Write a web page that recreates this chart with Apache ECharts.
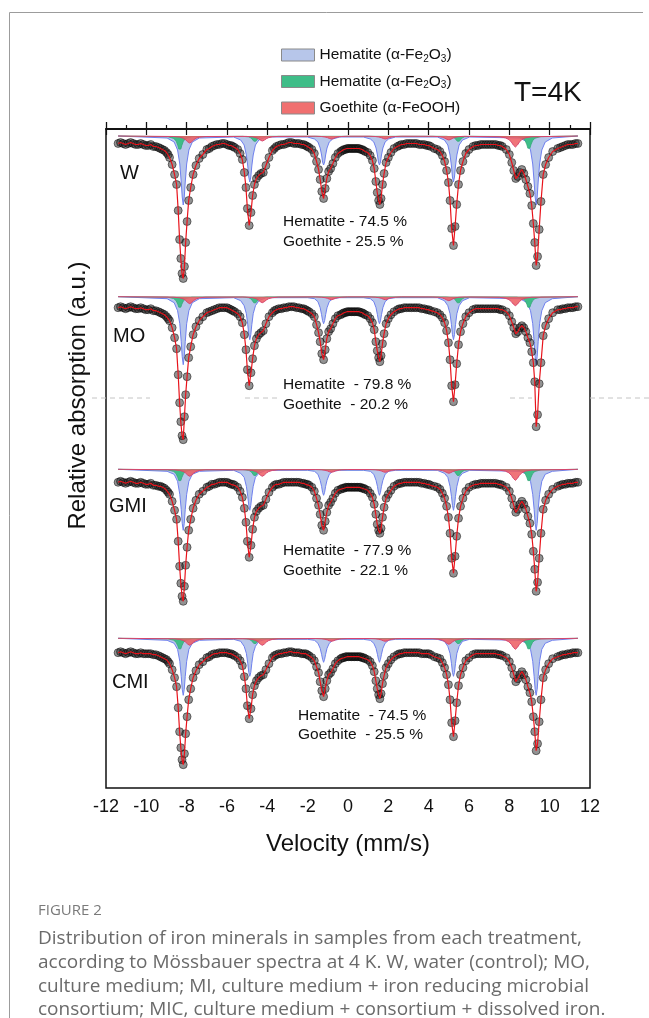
<!DOCTYPE html>
<html><head><meta charset="utf-8">
<script src="https://cdn.jsdelivr.net/npm/echarts@6/dist/echarts.min.js"></script>
<style>html,body{margin:0;padding:0;background:#fff;}#chart{width:649px;height:1018px;}</style>
</head><body><div id="chart"></div>
<script>
// ---------------- DATA ----------------
const samples = ['W', 'MO', 'GMI', 'CMI'];
const hematiteText = ['Hematite - 74.5 %', 'Hematite  - 79.8 %', 'Hematite  - 77.9 %', 'Hematite  - 74.5 %'];
const goethiteText = ['Goethite - 25.5 %', 'Goethite  - 20.2 %', 'Goethite  - 22.1 %', 'Goethite  - 25.5 %'];
const xTickValues = [-12, -10, -8, -6, -4, -2, 0, 2, 4, 6, 8, 10, 12];

// measured velocities (mm/s)
const velocity = [
-11.4,-11.28,-11.15,-11.03,-10.9,-10.78,-10.65,-10.53,-10.4,-10.28,-10.15,-10.03,-9.9,-9.78,-9.65,-9.53,-9.4,-9.3,-9.2,-9.1,-9.0,-8.92,-8.85,
-8.72,-8.6,-8.5,-8.42,-8.35,-8.29,-8.23,-8.17,-8.11,-8.05,-7.98,-7.9,-7.8,-7.68,-7.54,-7.38,-7.2,
-7.0,-6.88,-6.75,-6.63,-6.5,-6.38,-6.25,-6.13,-6.0,-5.9,-5.8,-5.71,-5.62,
-5.47,-5.35,-5.24,-5.14,-5.06,-4.99,-4.9,-4.81,-4.73,-4.64,-4.54,-4.43,-4.32,-4.2,-4.07,-3.92,
-3.75,-3.65,-3.55,-3.43,-3.3,-3.18,-3.05,-2.93,-2.8,-2.68,-2.55,-2.43,-2.3,-2.2,-2.1,-2.02,-1.93,
-1.79,-1.67,-1.56,-1.46,-1.38,-1.3,-1.21,-1.13,-1.05,-0.96,-0.86,-0.75,-0.63,-0.5,
-0.36,-0.28,-0.2,-0.12,-0.05,0.03,0.1,0.18,0.25,0.33,0.4,0.48,0.55,0.63,0.7,0.78,0.85,
0.98,1.1,1.21,1.3,1.38,1.45,1.52,1.58,1.64,1.71,1.79,1.89,2.0,2.13,2.28,
2.45,2.55,2.65,2.78,2.9,3.03,3.15,3.28,3.4,3.53,3.65,3.78,3.9,4.0,4.1,
4.28,4.43,4.56,4.68,4.79,4.89,4.98,5.06,5.14,5.23,5.31,5.39,5.48,5.58,5.7,5.84,6.0,
6.2,6.33,6.45,6.58,6.7,6.83,6.95,7.08,7.2,7.33,7.45,7.55,7.65,
7.85,8.0,8.12,8.22,8.32,8.42,8.52,8.62,8.72,8.82,8.92,9.02,9.11,9.19,9.26,9.33,9.4,9.48,9.57,9.68,9.8,9.95,10.15,
10.4,10.53,10.65,10.78,10.9,11.03,11.15,11.28,11.4
];
// relative absorption of the measured points (a.u.)
const absW = [
1,0,1,2,1,0,1,2,2,1,2,3,3,2,4,4,5,6,7,8,10,12,15,
22,32,42,68,97,116,131,136,124,100,79,58,45,32,23,16,12,
7,6,4,3,2,2,1,1,2,3,3,4,5,
7,11,17,30,45,66,83,70,53,42,36,33,31,30,23,15,
8,6,4,3,2,2,1,0,0,1,1,1,2,2,3,4,5,
7,11,19,27,37,49,56,46,36,29,26,21,15,11,
9,8,7,7,6,6,6,6,6,6,6,6,6,7,7,8,9,
10,13,18,26,39,50,58,62,56,42,31,20,15,10,6,
4,3,2,2,1,1,1,1,1,2,2,2,3,3,4,
6,7,9,13,19,28,40,58,86,103,84,62,42,28,19,11,7,
4,3,3,2,2,2,2,2,2,2,3,3,4,
7,12,20,28,36,34,30,27,31,37,44,51,63,81,100,123,114,87,59,32,22,15,9,
6,5,4,3,2,2,2,1,1
];
const absMO = [
1,0,1,2,1,0,1,2,2,1,2,3,3,2,4,4,5,6,7,8,10,12,14,
21,31,42,68,96,115,129,133,110,88,70,51,40,28,20,14,10,
6,5,4,3,2,1,1,1,1,2,3,4,5,
7,10,16,28,43,63,79,66,52,39,32,28,26,24,17,10,
6,4,3,2,2,1,1,0,0,0,1,1,2,2,3,4,5,
7,10,18,26,35,47,53,43,32,25,22,17,12,9,
8,7,6,6,5,5,5,5,5,5,5,5,5,6,6,7,8,
9,12,16,23,35,44,51,55,49,37,27,17,12,8,5,
3,2,2,1,1,1,1,1,1,1,2,2,3,3,4,
5,6,8,11,16,24,36,53,79,95,78,57,38,25,17,10,6,
3,2,2,2,2,2,2,2,2,2,2,3,3,
5,9,15,21,27,25,21,19,21,25,31,36,45,56,75,120,108,77,56,29,19,12,6,
3,3,2,2,1,1,1,0,0
];
const absGMI = [
1,0,1,2,1,0,1,2,2,1,2,3,3,2,4,4,5,5,6,7,9,11,13,
20,29,38,60,85,102,115,120,105,84,66,49,38,27,19,13,10,
6,5,3,3,2,1,1,1,1,2,3,3,4,
6,10,16,27,41,60,76,64,48,36,30,27,25,24,18,11,
6,4,3,3,2,1,1,1,1,1,1,1,2,2,3,3,4,
6,10,17,24,33,44,49,40,31,24,21,17,12,9,
8,7,7,6,6,6,6,6,6,6,6,6,6,6,7,7,8,
9,12,16,23,33,43,49,52,47,36,26,17,13,9,5,
3,2,2,1,1,1,1,1,1,1,2,2,3,3,4,
5,6,8,12,17,25,36,52,77,92,75,55,37,25,17,10,6,
4,3,3,2,2,2,2,2,2,2,3,3,4,
6,10,17,24,31,28,23,20,23,28,35,42,53,70,88,110,101,77,52,28,19,13,8,
5,4,3,3,2,2,2,1,1
];
const absCMI = [
1,0,1,2,1,0,1,2,2,1,2,2,2,2,3,3,4,5,6,7,8,10,12,
18,26,35,56,80,96,108,113,102,82,65,48,37,26,19,13,10,
6,5,3,2,2,1,1,1,1,2,2,3,4,
6,9,14,25,37,54,67,57,43,34,29,26,24,23,18,12,
6,4,3,2,2,1,1,0,0,1,1,1,2,2,2,3,4,
6,9,15,21,30,39,45,37,29,23,21,17,12,9,
7,6,6,5,5,5,5,5,5,5,5,5,5,5,6,6,7,
8,10,14,20,29,37,43,47,42,32,24,16,12,8,5,
3,2,2,1,1,1,1,1,1,1,2,2,2,2,3,
5,6,7,11,16,23,33,48,71,85,69,51,34,23,16,9,6,
3,2,2,2,2,2,2,2,2,2,3,3,4,
6,10,16,23,30,27,23,20,23,28,35,41,50,65,80,99,92,70,48,26,18,12,7,
5,4,3,3,2,2,1,1,1
];

// fitted sub-spectrum: Hematite (blue)
const blueVelocity = [-11.4,
-8.97,-8.62,-8.45,-8.34,-8.27,-8.22,-8.17,-8.12,-8.07,-8.0,-7.89,-7.72,-7.37,
-5.67,-5.32,-5.15,-5.04,-4.97,-4.92,-4.87,-4.82,-4.77,-4.7,-4.59,-4.42,-4.07,
-2.01,-1.66,-1.49,-1.38,-1.31,-1.26,-1.21,-1.16,-1.11,-1.04,-0.93,-0.76,-0.41,
0.76,1.11,1.28,1.39,1.46,1.51,1.56,1.61,1.66,1.73,1.84,2.01,2.36,
4.43,4.78,4.95,5.06,5.13,5.18,5.23,5.28,5.33,5.4,5.51,5.68,6.03,
8.53,8.88,9.05,9.16,9.23,9.28,9.33,9.38,9.43,9.5,9.61,9.78,10.13,
11.4];
const blueW = [0,
2,6,14,28,46,61,69,61,46,28,14,6,2,
1,4,9,19,30,41,46,41,30,19,9,4,1,
1,3,6,12,19,26,29,26,19,12,6,3,1,
1,3,6,12,19,26,29,26,19,12,6,3,1,
1,4,9,19,30,41,46,41,30,19,9,4,1,
2,6,14,28,46,61,69,61,46,28,14,6,2,
0];
const blueMO = [0,
2,6,14,27,45,60,68,60,45,27,14,6,2,
1,4,9,17,28,38,43,38,28,17,9,4,1,
1,2,5,11,18,24,27,24,18,11,5,2,1,
1,2,5,11,18,24,27,24,18,11,5,2,1,
1,4,9,17,28,38,43,38,28,17,9,4,1,
2,6,14,27,45,60,68,60,45,27,14,6,2,
0];
const blueGMI = [0,
2,5,12,25,40,54,61,54,40,25,12,5,2,
1,4,8,17,27,36,41,36,27,17,8,4,1,
1,2,5,11,17,23,26,23,17,11,5,2,1,
1,2,5,11,17,23,26,23,17,11,5,2,1,
1,4,8,17,27,36,41,36,27,17,8,4,1,
2,5,12,25,40,54,61,54,40,25,12,5,2,
0];
const blueCMI = [0,
2,5,11,23,38,51,57,51,38,23,11,5,2,
1,3,8,15,25,34,38,34,25,15,8,3,1,
1,2,5,10,16,21,24,21,16,10,5,2,1,
1,2,5,10,16,21,24,21,16,10,5,2,1,
1,3,8,15,25,34,38,34,25,15,8,3,1,
2,5,11,23,38,51,57,51,38,23,11,5,2,
0];

// fitted sub-spectrum: Hematite (green)
const greenVelocity = [-11.4,
-8.94,-8.64,-8.52,-8.44,-8.39,-8.34,-8.29,-8.24,-8.16,-8.04,-7.74,
-5.22,-4.92,-4.8,-4.72,-4.67,-4.62,-4.57,-4.52,-4.44,-4.32,-4.02,
4.87,5.17,5.29,5.37,5.42,5.47,5.52,5.57,5.65,5.77,6.07,
8.37,8.67,8.79,8.87,8.92,8.97,9.02,9.07,9.15,9.27,9.57,
11.4];
const greenW = [0,
0.7,2.4,5.1,9.4,13.1,15,13.1,9.4,5.1,2.4,0.7,
0.3,0.9,2.1,3.8,5.2,6,5.2,3.8,2.1,0.9,0.3,
0.3,0.9,2.1,3.8,5.2,6,5.2,3.8,2.1,0.9,0.3,
0.6,2.2,4.8,8.8,12.2,14,12.2,8.8,4.8,2.2,0.6,
0];
const greenMO = [0,
0.5,1.9,4.1,7.5,10.5,12,10.5,7.5,4.1,1.9,0.5,
0.3,1.1,2.4,4.4,6.1,7,6.1,4.4,2.4,1.1,0.3,
0.3,1.1,2.4,4.4,6.1,7,6.1,4.4,2.4,1.1,0.3,
0.5,1.9,4.1,7.5,10.5,12,10.5,7.5,4.1,1.9,0.5,
0];
const greenGMI = [0,
0.6,2.1,4.5,8.2,11.3,13,11.3,8.2,4.5,2.1,0.6,
0.3,1.1,2.4,4.4,6.1,7,6.1,4.4,2.4,1.1,0.3,
0.3,1.1,2.4,4.4,6.1,7,6.1,4.4,2.4,1.1,0.3,
0.6,2.1,4.5,8.2,11.3,13,11.3,8.2,4.5,2.1,0.6,
0];
const greenCMI = [0,
0.5,1.9,4.1,7.5,10.5,12,10.5,7.5,4.1,1.9,0.5,
0.3,0.9,2.1,3.8,5.2,6,5.2,3.8,2.1,0.9,0.3,
0.3,0.9,2.1,3.8,5.2,6,5.2,3.8,2.1,0.9,0.3,
0.5,1.9,4.1,7.5,10.5,12,10.5,7.5,4.1,1.9,0.5,
0];

// fitted sub-spectrum: Goethite (red)
const redVelocity = [-11.4,
-8.65,-8.35,-8.17,-8.05,-7.95,-7.85,-7.75,-7.65,-7.53,-7.35,-7.05,
-5.05,-4.75,-4.57,-4.45,-4.35,-4.25,-4.15,-4.05,-3.93,-3.75,-3.45,
-1.62,-1.32,-1.14,-1.02,-0.92,-0.82,-0.72,-0.62,-0.5,-0.32,-0.02,
1.05,1.35,1.53,1.65,1.75,1.85,1.95,2.05,2.17,2.35,2.65,
4.2,4.5,4.68,4.8,4.9,5.0,5.1,5.2,5.32,5.5,5.8,
7.5,7.8,7.98,8.1,8.2,8.3,8.4,8.5,8.62,8.8,9.1,
11.4];
const redW = [0,
0.5,1.1,2.2,3.8,5.8,7,5.8,3.8,2.2,1.1,0.5,
0.4,0.8,1.6,2.7,4.1,5,4.1,2.7,1.6,0.8,0.4,
0.2,0.5,1,1.6,2.5,3,2.5,1.6,1,0.5,0.2,
0.2,0.5,1,1.6,2.5,3,2.5,1.6,1,0.5,0.2,
0.3,0.6,1.3,2.2,3.3,4,3.3,2.2,1.3,0.6,0.3,
0.8,1.8,3.5,6,9.1,11,9.1,6,3.5,1.8,0.8,
0];
const redMO = [0,
0.5,1.1,2.2,3.8,5.8,7,5.8,3.8,2.2,1.1,0.5,
0.4,1,1.9,3.3,5,6,5,3.3,1.9,1,0.4,
0.2,0.5,1,1.6,2.5,3,2.5,1.6,1,0.5,0.2,
0.2,0.5,1,1.6,2.5,3,2.5,1.6,1,0.5,0.2,
0.3,0.6,1.3,2.2,3.3,4,3.3,2.2,1.3,0.6,0.3,
0.6,1.5,2.9,4.9,7.5,9,7.5,4.9,2.9,1.5,0.6,
0];
const redGMI = [0,
0.5,1.1,2.2,3.8,5.8,7,5.8,3.8,2.2,1.1,0.5,
0.5,1.1,2.2,3.8,5.8,7,5.8,3.8,2.2,1.1,0.5,
0.2,0.5,1,1.6,2.5,3,2.5,1.6,1,0.5,0.2,
0.2,0.5,1,1.6,2.5,3,2.5,1.6,1,0.5,0.2,
0.3,0.6,1.3,2.2,3.3,4,3.3,2.2,1.3,0.6,0.3,
0.8,1.8,3.5,6,9.1,11,9.1,6,3.5,1.8,0.8,
0];
const redCMI = [0,
0.5,1.1,2.2,3.8,5.8,7,5.8,3.8,2.2,1.1,0.5,
0.5,1.1,2.2,3.8,5.8,7,5.8,3.8,2.2,1.1,0.5,
0.2,0.5,1,1.6,2.5,3,2.5,1.6,1,0.5,0.2,
0.2,0.5,1,1.6,2.5,3,2.5,1.6,1,0.5,0.2,
0.4,1,1.9,3.3,5,6,5,3.3,1.9,1,0.4,
0.8,1.8,3.5,6,9.1,11,9.1,6,3.5,1.8,0.8,
0];

// ---------------- LAYOUT / STYLE ----------------
const FONT = '"Liberation Sans", Arial, Helvetica, sans-serif';
const CAP_FONT = '"Open Sans", "Noto Sans", sans-serif';
const GRID = { left: 106, top: 129, width: 484, height: 659 };
const dataBase = [13.5, 177.7, 352.3, 522.7];   // vertical stacking offsets (layout)
const compBase = [7, 167.7, 340.3, 509.3];
const absorb = [absW, absMO, absGMI, absCMI];
const blue = [blueW, blueMO, blueGMI, blueCMI];
const green = [greenW, greenMO, greenGMI, greenCMI];
const red = [redW, redMO, redGMI, redCMI];
const labelPos = [[120, 173], [113, 336], [109, 506], [112, 682]];
const notePos = [[283, 222, 242], [283, 385, 405], [283, 551, 571], [298, 716, 735]];

const C_BLUE = '#b7c6ea', C_BLUE_LINE = '#6f80ee';
const C_GREEN = '#3fbd88', C_GREEN_LINE = '#34a877';
const C_RED = 'rgba(236,92,98,0.85)', C_RED_LINE = '#d8456e';

const series = [];
samples.forEach((s, i) => {
  series.push({
    name: 'hemA', type: 'line', symbol: 'none', silent: true, z: 2,
    data: blueVelocity.map((v, k) => [v, compBase[i] + blue[i][k]]),
    lineStyle: { color: C_BLUE_LINE, width: 1 },
    itemStyle: { color: C_BLUE },
    areaStyle: { color: C_BLUE, opacity: 1, origin: compBase[i] }
  });
  series.push({
    name: 'hemB', type: 'line', symbol: 'none', silent: true, z: 3,
    data: greenVelocity.map((v, k) => [v, compBase[i] + green[i][k]]),
    lineStyle: { color: C_GREEN_LINE, width: 0.8 },
    itemStyle: { color: C_GREEN },
    areaStyle: { color: C_GREEN, opacity: 1, origin: compBase[i] }
  });
  series.push({
    name: 'goe', type: 'line', symbol: 'none', silent: true, z: 4,
    data: redVelocity.map((v, k) => [v, compBase[i] + red[i][k]]),
    lineStyle: { color: C_RED_LINE, width: 1 },
    itemStyle: { color: C_RED },
    areaStyle: { color: C_RED, opacity: 1, origin: compBase[i] }
  });
  const pts = velocity.map((v, k) => [v, dataBase[i] + absorb[i][k]]);
  series.push({
    name: s + ' data', type: 'scatter', silent: true, z: 5,
    data: pts, symbolSize: 8,
    itemStyle: { color: 'rgba(35,35,35,0.62)', borderColor: 'rgba(0,0,0,0.75)', borderWidth: 0.8 }
  });
  series.push({
    name: s + ' fit', type: 'line', symbol: 'none', silent: true, z: 6,
    data: pts, lineStyle: { color: '#e8121a', width: 1.2 }
  });
});

const legendText = {
  hemA: '{t|Hematite (α-Fe}{s|2}{t|O}{s|3}{t|)}',
  hemB: '{t|Hematite (α-Fe}{s|2}{t|O}{s|3}{t|)}',
  goe: '{t|Goethite (α-FeOOH)}'
};

const graphics = [
  { type: 'line', shape: { x1: 9.5, y1: 12.5, x2: 9.5, y2: 1018 }, style: { stroke: '#9c9c9c', lineWidth: 1 } },
  { type: 'line', shape: { x1: 9.5, y1: 12.5, x2: 643, y2: 12.5 }, style: { stroke: '#9c9c9c', lineWidth: 1 } },
  { type: 'text', x: 514, y: 93, style: { text: 'T=4K', font: '28px ' + FONT, fill: '#111', verticalAlign: 'middle' } },
  { type: 'text', x: 38, y: 911, style: { text: 'FIGURE 2', font: '15px ' + CAP_FONT, fill: '#7a7a7a', verticalAlign: 'middle' } }
];
[[92,150],[245,280],[510,532],[590,649]].forEach(seg => graphics.push({
  type: 'line', shape: { x1: seg[0], y1: 398, x2: seg[1], y2: 398 },
  style: { stroke: '#c4c4c4', lineWidth: 1, lineDash: [5, 4] }
}));
const caption = [
  'Distribution of iron minerals in samples from each treatment,',
  'according to Mössbauer spectra at 4 K. W, water (control); MO,',
  'culture medium; MI, culture medium + iron reducing microbial',
  'consortium; MIC, culture medium + consortium + dissolved iron.'
];
const captionY = [939, 963, 987, 1010];
caption.forEach((t, i) => graphics.push({
  type: 'text', x: 38, y: captionY[i],
  style: { text: t, font: '19px ' + CAP_FONT, fill: '#6a6a6a', verticalAlign: 'middle' }
}));
samples.forEach((s, i) => {
  graphics.push({ type: 'text', x: labelPos[i][0], y: labelPos[i][1], z: 10,
    style: { text: s, font: '20px ' + FONT, fill: '#111', verticalAlign: 'middle' } });
  graphics.push({ type: 'text', x: notePos[i][0], y: notePos[i][1], z: 10,
    style: { text: hematiteText[i], font: '15.5px ' + FONT, fill: '#111', verticalAlign: 'middle' } });
  graphics.push({ type: 'text', x: notePos[i][0], y: notePos[i][2], z: 10,
    style: { text: goethiteText[i], font: '15.5px ' + FONT, fill: '#111', verticalAlign: 'middle' } });
});

const chart = echarts.init(document.getElementById('chart'), null, { renderer: 'canvas' });
chart.setOption({
  animation: false,
  backgroundColor: '#ffffff',
  textStyle: { fontFamily: FONT },
  grid: Object.assign({ show: true, borderColor: '#111', borderWidth: 1.5, backgroundColor: 'transparent' }, GRID),
  legend: {
    orient: 'vertical', left: 281, top: 47, padding: 0, itemWidth: 33, itemHeight: 12, itemGap: 9.5,
    icon: 'rect', selectedMode: false,
    data: [
      { name: 'hemA', itemStyle: { color: C_BLUE, borderColor: '#8a8a8a', borderWidth: 1 } },
      { name: 'hemB', itemStyle: { color: C_GREEN, borderColor: '#8a8a8a', borderWidth: 1 } },
      { name: 'goe', itemStyle: { color: '#f07070', borderColor: '#8a8a8a', borderWidth: 1 } }
    ],
    formatter: n => legendText[n],
    textStyle: {
      color: '#111', fontFamily: FONT, fontSize: 15.5,
      rich: {
        t: { fontSize: 15.5, lineHeight: 18, fontFamily: FONT, color: '#111' },
        s: { fontSize: 10, lineHeight: 10, verticalAlign: 'bottom', fontFamily: FONT, color: '#111' }
      }
    }
  },
  xAxis: [{
    type: 'value', position: 'bottom', min: xTickValues[0], max: xTickValues[xTickValues.length - 1], interval: 2,
    axisLine: { show: true, lineStyle: { color: '#111', width: 1.5 } },
    axisTick: { show: true, inside: true, length: 7, lineStyle: { color: '#111', width: 1.3 } },
    minorTick: { show: true, splitNumber: 2, length: 4, lineStyle: { color: '#111', width: 1.2 } },
    splitLine: { show: false },
    axisLabel: { fontSize: 18, color: '#111', margin: 10, fontFamily: FONT },
    name: 'Velocity (mm/s)', nameLocation: 'middle', nameGap: 44,
    nameTextStyle: { fontSize: 24, color: '#111', fontFamily: FONT }
  }, {
    type: 'value', position: 'top', min: xTickValues[0], max: xTickValues[xTickValues.length - 1], interval: 2,
    axisLine: { show: true, lineStyle: { color: '#111', width: 1.5 } },
    axisTick: { show: true, inside: true, length: 6, lineStyle: { color: '#111', width: 1.2 } },
    axisLabel: { show: false }, splitLine: { show: false }
  }],
  yAxis: {
    type: 'value', inverse: true, min: 0, max: GRID.height,
    axisLine: { show: false }, axisTick: { show: false }, axisLabel: { show: false }, splitLine: { show: false },
    name: 'Relative absorption (a.u.)', nameLocation: 'middle', nameGap: 16, nameRotate: 90,
    nameTextStyle: { fontSize: 24, color: '#111', fontFamily: FONT, padding: [0, 0, 0, 126] }
  },
  graphic: graphics,
  series: series
});
</script>
</body></html>
